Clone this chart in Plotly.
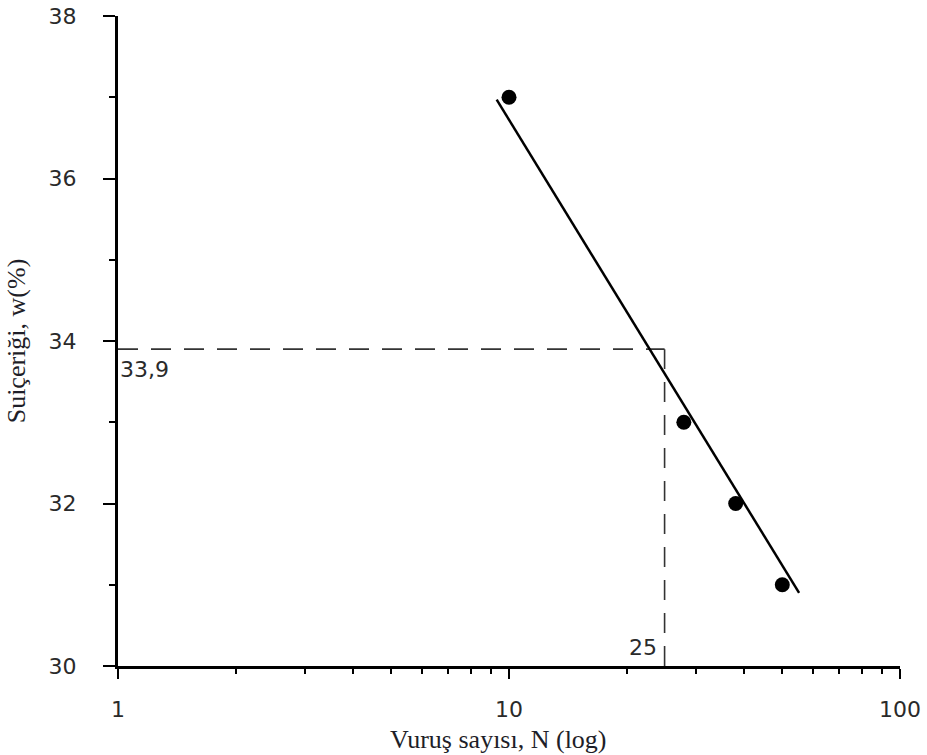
import numpy as np
import plotly.graph_objects as go

# Measured points: blow count N vs water content w (%)
blows_n = [10, 28, 38, 50]
water_w = [37, 33, 32, 31]

# Flow line endpoints (drawn through the points)
flow_n = [9.3, 55.2]
flow_w = [36.97, 30.9]

# Liquid limit read at 25 blows
ll_n = 25
ll_w = 33.9

x_title = "Vuruş sayısı, N (log)"
y_title = "Suiçeriği, w(%)"
x_ticks = [1, 10, 100]
y_ticks = [30, 32, 34, 36, 38]

tick_font = dict(family="DejaVu Sans", size=22, color="#2a2a2a")
title_font = dict(family="Liberation Serif", size=26, color="#1e1e28")

fig = go.Figure()

# Dashed guide lines to the axes
fig.add_trace(go.Scatter(x=[1, ll_n], y=[ll_w, ll_w], mode="lines",
                         line=dict(color="#333333", width=1.6, dash="20px,13px"),
                         showlegend=False, hoverinfo="skip"))
fig.add_trace(go.Scatter(x=[ll_n, ll_n], y=[30, ll_w], mode="lines",
                         line=dict(color="#333333", width=1.6, dash="20px,13px"),
                         showlegend=False, hoverinfo="skip"))

# Flow line
fig.add_trace(go.Scatter(x=flow_n, y=flow_w, mode="lines",
                         line=dict(color="black", width=2.5),
                         showlegend=False))

# Data points
fig.add_trace(go.Scatter(x=blows_n, y=water_w, mode="markers",
                         marker=dict(color="black", size=15),
                         showlegend=False))

fig.add_annotation(x=np.log10(1), y=ll_w, xref="x", yref="y",
                   text=f"{ll_w:.1f}".replace(".", ","), showarrow=False,
                   xanchor="left", yanchor="top", xshift=0, yshift=-6,
                   font=tick_font)
fig.add_annotation(x=np.log10(ll_n), y=30, xref="x", yref="y",
                   text=str(ll_n), showarrow=False,
                   xanchor="right", yanchor="bottom", xshift=-6, yshift=4,
                   font=tick_font)

# X-axis title placed under the tick labels
fig.add_annotation(x=0.487, y=0, xref="paper", yref="paper",
                   text=x_title, showarrow=False,
                   xanchor="center", yanchor="top", yshift=-57,
                   font=title_font)

axis_common = dict(showline=True, linecolor="black", linewidth=3,
                   ticks="outside", tickcolor="black", tickwidth=2,
                   showgrid=False, zeroline=False, mirror=False,
                   automargin=False, tickfont=tick_font)

fig.update_xaxes(type="log", range=[0, 2], tickvals=x_ticks,
                 ticktext=[str(v) for v in x_ticks], ticklen=10,
                 ticklabelstandoff=12,
                 minor=dict(ticks="outside", ticklen=5, tickwidth=2,
                            tickcolor="black", dtick="D1", showgrid=False),
                 **axis_common)
fig.update_yaxes(range=[30, 38], tickvals=y_ticks,
                 ticktext=[str(v) for v in y_ticks], ticklen=12,
                 ticklabelstandoff=22,
                 minor=dict(ticks="outside", ticklen=6, tickwidth=2,
                            tickcolor="black", dtick=1, showgrid=False),
                 title=dict(text=y_title, standoff=16, font=title_font),
                 **axis_common)

fig.update_layout(width=927, height=755,
                  margin=dict(l=118, r=27, t=16, b=89),
                  plot_bgcolor="white", paper_bgcolor="white",
                  showlegend=False)

fig.write_html("out.html")
